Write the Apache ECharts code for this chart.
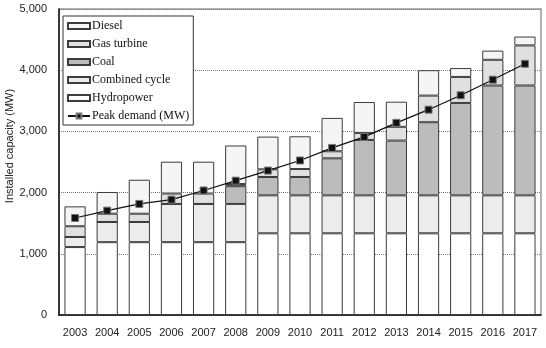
<!DOCTYPE html>
<html>
<head>
<meta charset="utf-8">
<script src="https://cdn.jsdelivr.net/npm/echarts@6/dist/echarts.min.js"></script>
<style>
  html, body { margin: 0; padding: 0; background: #fff; }
  #chart { width: 546px; height: 348px; }
</style>
</head>
<body>
<div id="chart"></div>
<script>
// data (MW)
const years = ['2003', '2004', '2005', '2006', '2007', '2008', '2009', '2010',
  '2011', '2012', '2013', '2014', '2015', '2016', '2017']
const hydropower = [1110, 1190, 1190, 1190, 1190, 1190, 1335, 1335, 1335, 1335, 1335, 1335, 1335, 1335, 1335]
const combinedCycle = [165, 330, 330, 625, 625, 625, 620, 620, 620, 620, 620, 620, 620, 620, 620]
const coal = [0, 0, 0, 0, 0, 290, 300, 300, 605, 905, 895, 1195, 1510, 1795, 1795]
const gasTurbine = [175, 135, 135, 170, 170, 35, 125, 130, 115, 115, 225, 435, 425, 420, 655]
const diesel = [325, 355, 555, 520, 520, 630, 535, 535, 545, 505, 410, 415, 145, 150, 145]
const peakDemand = [1585, 1705, 1815, 1885, 2035, 2195, 2360, 2525, 2730, 2910, 3140, 3355, 3590, 3845, 4105]

const chart = echarts.init(document.getElementById('chart'))

// one stacked bar series
function stackBar(name, data, color) {
  return {
    name: name, type: 'bar', stack: 'cap', data: data,
    barWidth: '66%',
    itemStyle: { color: color, borderColor: '#3c3c3c', borderWidth: 1 },
    emphasis: { disabled: true }
  }
}

const option = {
  animation: false,
  grid: {
    left: 59, right: 5, top: 9, bottom: 33,
    show: true, borderColor: '#999', borderWidth: 1.5
  },
  // y axis title, placed by hand like the original
  graphic: [{
    type: 'text', x: 10, y: 146, rotation: Math.PI / 2,
    style: {
      text: 'Installed capacity (MW)', fontFamily: 'Liberation Sans', fontSize: 11,
      fill: '#222', align: 'center', verticalAlign: 'middle'
    }
  }],
  legend: {
    left: 63, top: 16,
    orient: 'vertical',
    data: ['Diesel', 'Gas turbine', 'Coal', 'Combined cycle', 'Hydropower', 'Peak demand (MW)'],
    itemWidth: 22, itemHeight: 6, itemGap: 6,
    padding: [4, 4, 3, 4],
    backgroundColor: '#fff',
    borderColor: '#333', borderWidth: 1,
    textStyle: { fontFamily: 'Liberation Serif', fontSize: 12, color: '#111', padding: [0, 0, 0, -3] }
  },
  xAxis: {
    type: 'category',
    data: years,
    axisLine: { lineStyle: { color: '#111', width: 1.5 } },
    axisTick: { inside: true, length: 4, lineStyle: { color: '#111' } },
    axisLabel: { fontFamily: 'Liberation Sans', fontSize: 11, color: '#222', margin: 12, interval: 0 }
  },
  yAxis: {
    type: 'value',
    min: 0, max: 5000, interval: 1000,
    axisLine: { show: true, lineStyle: { color: '#111', width: 1.5 } },
    axisTick: { show: false },
    axisLabel: {
      fontFamily: 'Liberation Sans', fontSize: 11, color: '#222', margin: 12,
      formatter: v => v.toLocaleString('en-US')
    },
    splitLine: { lineStyle: { color: '#777', type: [1, 1], width: 1 } }
  },
  series: [
    stackBar('Hydropower', hydropower, '#ffffff'),
    stackBar('Combined cycle', combinedCycle, '#ececec'),
    stackBar('Coal', coal, '#bcbcbc'),
    stackBar('Gas turbine', gasTurbine, '#e0e0e0'),
    stackBar('Diesel', diesel, '#f5f5f5'),
    {
      name: 'Peak demand (MW)', type: 'line', data: peakDemand,
      symbol: 'rect', symbolSize: 7,
      lineStyle: { color: '#111', width: 1.2 },
      itemStyle: { color: '#111', borderColor: '#777', borderWidth: 1 },
      emphasis: { disabled: true },
      z: 5
    }
  ]
}
// square legend swatches for the bars
option.legend.data = option.legend.data.map(n => n.startsWith('Peak') ? n : { name: n, icon: 'rect' })

chart.setOption(option)
</script>
</body>
</html>
